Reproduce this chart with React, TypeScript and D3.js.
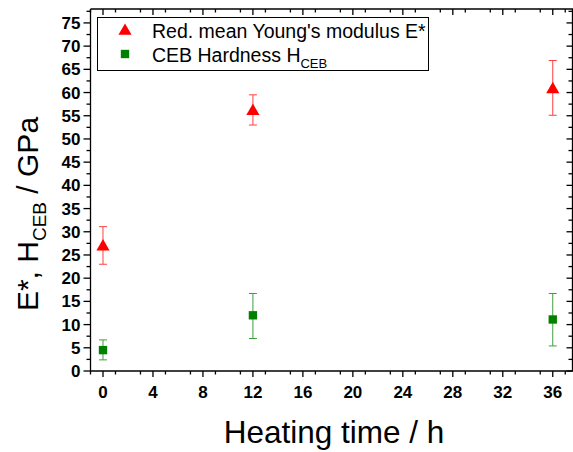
import React from "react";
import * as d3 from "d3";

const heatingTimes = [0, 12, 36];
const youngMean = [27.0, 56.2, 60.9];
const youngErrLow = [23.0, 53.0, 55.1];
const youngErrHigh = [31.1, 59.5, 66.9];
const hardMean = [4.5, 12.0, 11.1];
const hardErrLow = [2.4, 7.0, 5.4];
const hardErrHigh = [6.7, 16.7, 16.7];
const xMajorTicks = [0, 4, 8, 12, 16, 20, 24, 28, 32, 36];
const yMajorTicks = [0, 5, 10, 15, 20, 25, 30, 35, 40, 45, 50, 55, 60, 65, 70, 75];
const legendLabels = ["Red. mean Young's modulus E*", "CEB Hardness H"];

const W = 573;
const H = 452;
const FONT = "'Liberation Sans', Arial, sans-serif";

export default function App() {
  const x = d3.scaleLinear().domain([-1, 37.5]).range([90.5, 571.5]);
  const y = d3.scaleLinear().domain([0, 78]).range([371, 9]);
  const [x0, x1] = x.range();
  const [yb, yt] = y.range();
  const xMinor = d3.range(-1, 38, 2).filter((v) => v % 4 !== 0);
  const yMinor = d3.range(2.5, 78, 5);

  const tri = d3.symbol().type(d3.symbolTriangle).size(75)()!;
  const sq = d3.symbol().type(d3.symbolSquare).size(70)()!;

  const red = "#ff0000";
  const green = "#008000";

  const errBar = (xi: number, lo: number, hi: number, color: string, key: string) => (
    <g key={key} stroke={color} strokeWidth={1} opacity={0.75}>
      <line x1={x(xi)} x2={x(xi)} y1={y(lo)} y2={y(hi)} />
      <line x1={x(xi) - 4} x2={x(xi) + 4} y1={y(lo)} y2={y(lo)} />
      <line x1={x(xi) - 4} x2={x(xi) + 4} y1={y(hi)} y2={y(hi)} />
    </g>
  );

  return (
    <svg width={W} height={H} style={{ position: "absolute", left: 0, top: 0, background: "#fff" }}>
      <rect x={0} y={0} width={W} height={H} fill="#fff" />
      {/* frame */}
      <g stroke="#000" strokeWidth={1.3} fill="none">
        <line x1={x0} x2={x0} y1={yb} y2={yt} />
        <line x1={x0} x2={x1 + 3} y1={yb} y2={yb} />
        <line x1={x0} x2={x1 + 3} y1={yt} y2={yt} />
        <line x1={x1 + 1} x2={x1 + 1} y1={yb} y2={yt} />
      </g>
      {/* ticks */}
      <g stroke="#000" strokeWidth={1.3}>
        {xMajorTicks.map((v) => (
          <g key={"xm" + v}>
            <line x1={x(v)} x2={x(v)} y1={yb} y2={yb + 6} />
            <line x1={x(v)} x2={x(v)} y1={yt} y2={yt + 6} />
          </g>
        ))}
        {xMinor.map((v) => (
          <g key={"xn" + v}>
            <line x1={x(v)} x2={x(v)} y1={yb} y2={yb + 3.5} />
            <line x1={x(v)} x2={x(v)} y1={yt} y2={yt + 3.5} />
          </g>
        ))}
        {yMajorTicks.map((v) => (
          <g key={"ym" + v}>
            <line x1={x0} x2={x0 - 7} y1={y(v)} y2={y(v)} />
            <line x1={x1 + 1} x2={x1 - 5} y1={y(v)} y2={y(v)} />
          </g>
        ))}
        {yMinor.map((v) => (
          <g key={"yn" + v}>
            <line x1={x0} x2={x0 - 4} y1={y(v)} y2={y(v)} />
            <line x1={x1 + 1} x2={x1 - 3} y1={y(v)} y2={y(v)} />
          </g>
        ))}
      </g>
      {/* tick labels */}
      <g fontFamily={FONT} fontWeight="bold" fontSize={17} fill="#000">
        {xMajorTicks.map((v) => (
          <text key={"xl" + v} x={x(v)} y={yb + 27} textAnchor="middle">
            {v}
          </text>
        ))}
        {yMajorTicks.map((v) => (
          <text key={"yl" + v} x={x0 - 10} y={y(v) + 6} textAnchor="end">
            {v}
          </text>
        ))}
      </g>
      {/* axis titles */}
      <text x={334} y={443} textAnchor="middle" fontFamily={FONT} fontSize={31.5} fill="#000">
        Heating time / h
      </text>
      <text
        transform={`translate(38, 214) rotate(-90)`}
        textAnchor="middle"
        fontFamily={FONT}
        fontSize={30}
        fill="#000"
      >
        E*, H<tspan fontSize={19} dy={8}>CEB</tspan>
        <tspan dy={-8}> / GPa</tspan>
      </text>
      {/* error bars */}
      {heatingTimes.map((t, i) => errBar(t, youngErrLow[i], youngErrHigh[i], red, "re" + i))}
      {heatingTimes.map((t, i) => errBar(t, hardErrLow[i], hardErrHigh[i], green, "ge" + i))}
      {/* markers */}
      {heatingTimes.map((t, i) => (
        <path key={"rt" + i} d={tri} transform={`translate(${x(t)},${y(youngMean[i]) + 1})`} fill={red} />
      ))}
      {heatingTimes.map((t, i) => (
        <path key={"gs" + i} d={sq} transform={`translate(${x(t)},${y(hardMean[i])})`} fill={green} />
      ))}
      {/* legend */}
      <rect x={97.5} y={17.5} width={331} height={53} fill="#fff" stroke="#000" strokeWidth={1} />
      <path d={tri} transform={`translate(125,31)`} fill={red} />
      <path d={sq} transform={`translate(125,54)`} fill={green} />
      <g fontFamily={FONT} fontSize={19.5} fill="#000">
        <text x={152} y={38}>{legendLabels[0]}</text>
        <text x={152} y={62}>
          {legendLabels[1]}
          <tspan fontSize={13} dy={6}>CEB</tspan>
        </text>
      </g>
    </svg>
  );
}
